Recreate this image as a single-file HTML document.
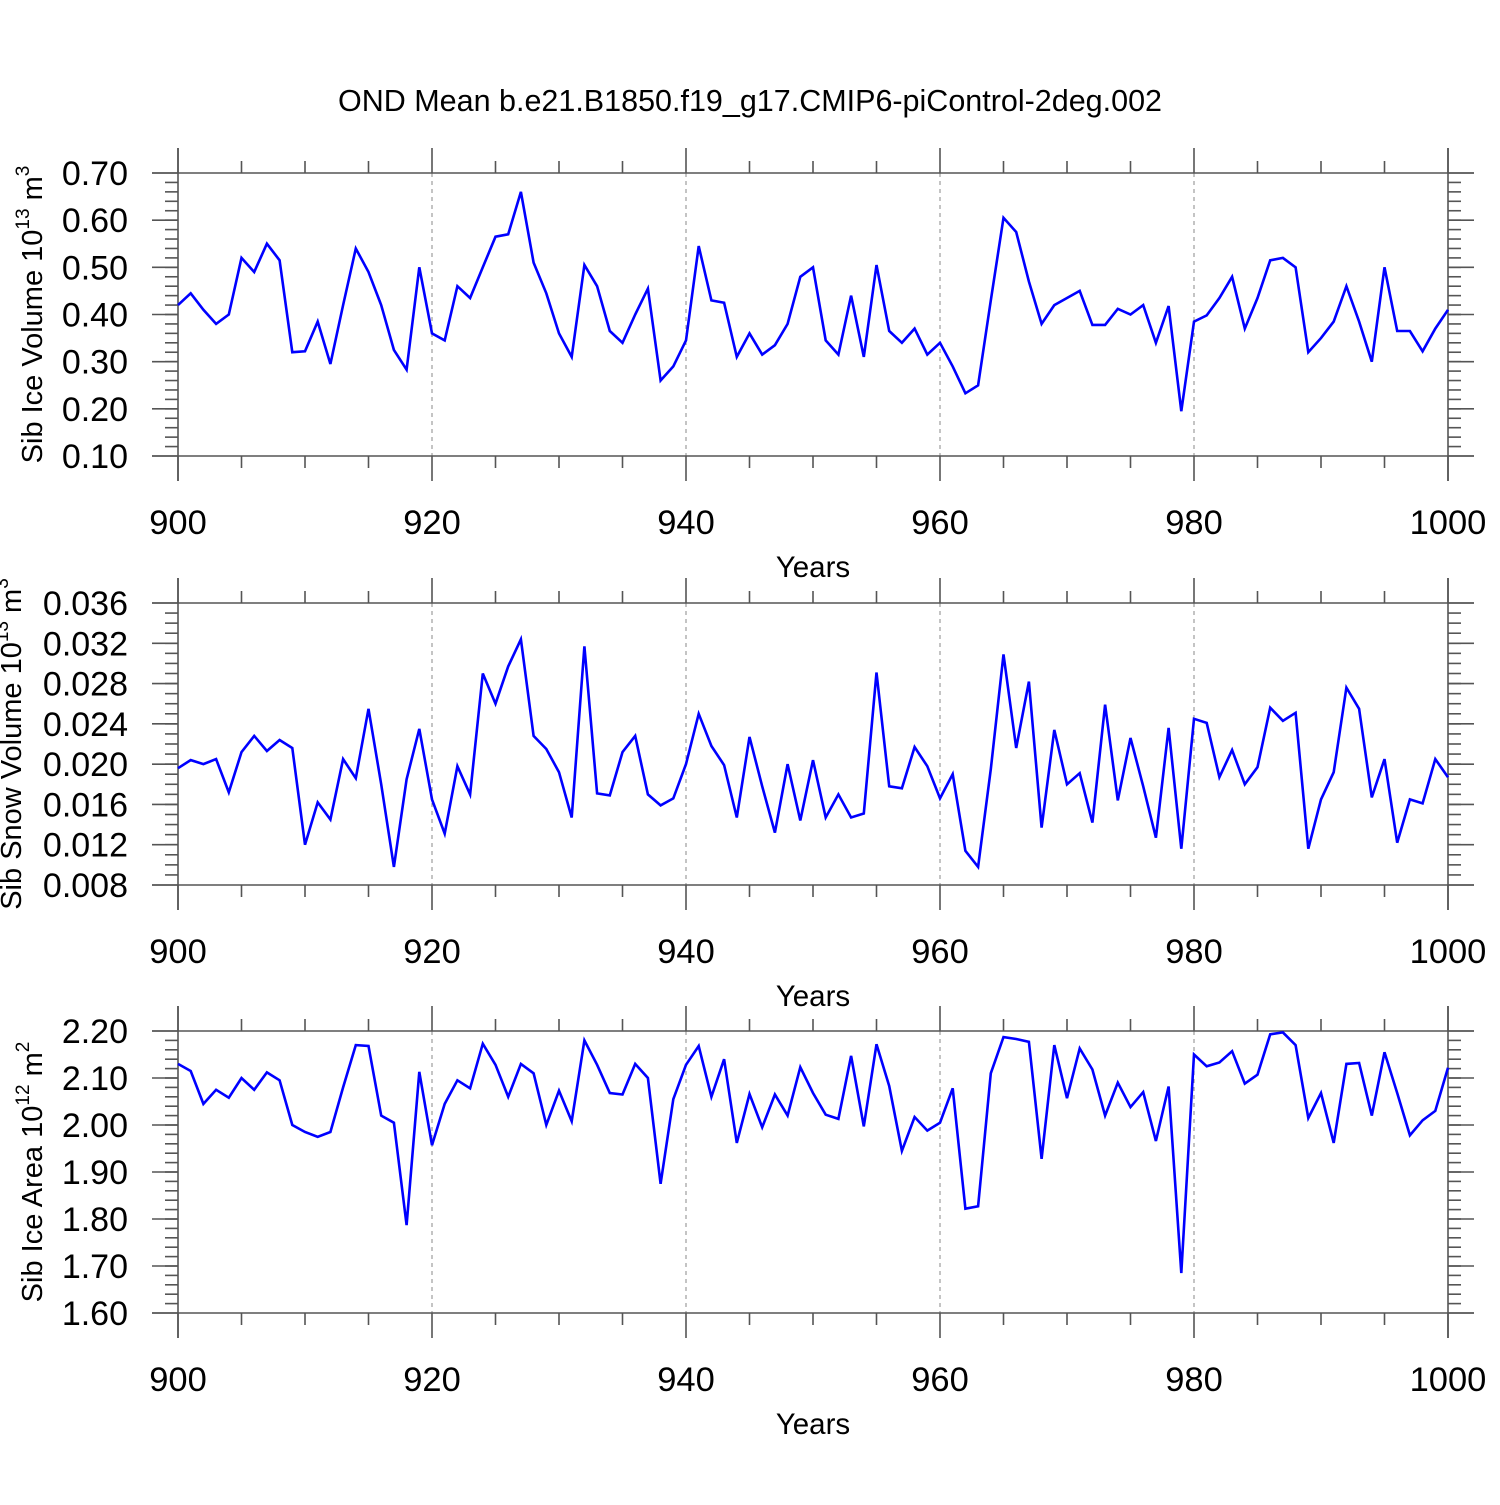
<!DOCTYPE html>
<html><head><meta charset="utf-8"><style>
html,body{margin:0;padding:0;background:#fff;}
svg text{font-family:"Liberation Sans",Arial,sans-serif;}
</style></head><body>
<svg id="chart" width="1500" height="1500" viewBox="0 0 1500 1500" xmlns="http://www.w3.org/2000/svg">
<rect width="1500" height="1500" fill="#fff"/>
<text x="750" y="111" font-size="30.5" text-anchor="middle">OND Mean b.e21.B1850.f19_g17.CMIP6-piControl-2deg.002</text>
</svg>
<script>
const years = [];
for (let y = 900; y <= 1000; y++) years.push(y);
const xTicks = [900, 920, 940, 960, 980, 1000];
const iceVolume = [0.42,0.445,0.41,0.38,0.40,0.52,0.49,0.55,0.515,0.32,0.322,0.385,0.295,0.42,0.54,0.49,0.42,0.325,0.283,0.50,0.36,0.345,0.46,0.435,0.50,0.565,0.57,0.66,0.51,0.445,0.36,0.31,0.505,0.46,0.365,0.34,0.40,0.455,0.26,0.29,0.345,0.545,0.43,0.425,0.31,0.36,0.315,0.335,0.38,0.48,0.50,0.345,0.315,0.44,0.31,0.505,0.365,0.34,0.37,0.315,0.34,0.29,0.233,0.25,0.43,0.605,0.575,0.47,0.38,0.42,0.435,0.45,0.378,0.378,0.412,0.40,0.42,0.34,0.418,0.195,0.385,0.398,0.435,0.48,0.37,0.435,0.515,0.52,0.50,0.32,0.35,0.385,0.46,0.385,0.30,0.50,0.365,0.365,0.322,0.37,0.41];
const snowVolume = [0.0196,0.0204,0.020,0.0205,0.0172,0.0212,0.0228,0.0213,0.0224,0.0216,0.012,0.0162,0.0145,0.0205,0.0186,0.0255,0.018,0.0098,0.0185,0.0235,0.0165,0.0131,0.0198,0.0170,0.029,0.026,0.0297,0.0324,0.0228,0.0215,0.0192,0.0147,0.0317,0.0171,0.0169,0.0212,0.0228,0.017,0.0159,0.0166,0.020,0.025,0.0218,0.0199,0.0147,0.0227,0.0178,0.0132,0.020,0.0144,0.0204,0.0147,0.017,0.0147,0.0151,0.0291,0.0178,0.0176,0.0217,0.0198,0.0166,0.019,0.0114,0.0098,0.0195,0.0309,0.0216,0.0282,0.0137,0.0234,0.018,0.0191,0.0142,0.0259,0.0164,0.0226,0.0178,0.0127,0.0236,0.0116,0.0245,0.0241,0.0187,0.0214,0.018,0.0197,0.0256,0.0243,0.0251,0.0116,0.0165,0.0192,0.0276,0.0255,0.0167,0.0205,0.0122,0.0165,0.0161,0.0205,0.0187];
const iceArea = [2.13,2.115,2.045,2.075,2.058,2.10,2.075,2.112,2.095,2.00,1.985,1.975,1.985,2.08,2.17,2.168,2.02,2.005,1.787,2.113,1.957,2.045,2.095,2.078,2.173,2.128,2.06,2.13,2.11,2.00,2.073,2.008,2.18,2.128,2.068,2.065,2.13,2.10,1.875,2.055,2.128,2.168,2.06,2.14,1.962,2.066,1.995,2.065,2.02,2.123,2.068,2.022,2.013,2.147,1.997,2.172,2.083,1.945,2.017,1.988,2.005,2.078,1.822,1.827,2.11,2.187,2.183,2.177,1.928,2.17,2.057,2.163,2.118,2.02,2.09,2.038,2.07,1.966,2.082,1.685,2.15,2.125,2.133,2.157,2.088,2.107,2.193,2.197,2.17,2.015,2.068,1.962,2.13,2.132,2.02,2.155,2.068,1.978,2.01,2.03,2.122];
const volTicks = ["0.10","0.20","0.30","0.40","0.50","0.60","0.70"];
const snowTicks = ["0.008","0.012","0.016","0.020","0.024","0.028","0.032","0.036"];
const areaTicks = ["1.60","1.70","1.80","1.90","2.00","2.10","2.20"];

const NS = "http://www.w3.org/2000/svg";
const svg = document.getElementById('chart');
function el(tag, attrs, parent) {
  const e = document.createElementNS(NS, tag);
  for (const k in attrs) e.setAttribute(k, attrs[k]);
  (parent || svg).appendChild(e);
  return e;
}
const X0 = 178, X1 = 1448;
function xs(v) { return X0 + (v - 900) / 100 * (X1 - X0); }

function panel(key, top, bottom, vmin, vmax, minorStep, ticks, data, titleParts, titleX) {
  const g = el('g', {});
  
  
  const ys = v => bottom - (v - vmin) / (vmax - vmin) * (bottom - top);
  [920, 940, 960, 980].forEach(t => {
    const l = el('line', {x1: xs(t), x2: xs(t), y1: top, y2: bottom, stroke: '#888', 'stroke-width': 1, 'stroke-dasharray': '4,4'}, g);
    
    
  });
  const ax = {stroke: '#555', 'stroke-width': 1.6};
  el('line', Object.assign({x1: 152, x2: 1474, y1: top, y2: top}, ax), g);
  el('line', Object.assign({x1: 152, x2: 1474, y1: bottom, y2: bottom}, ax), g);
  el('line', Object.assign({x1: X0, x2: X0, y1: top - 25, y2: bottom + 25}, ax), g);
  el('line', Object.assign({x1: X1, x2: X1, y1: top - 25, y2: bottom + 25}, ax), g);
  for (let t = 900; t <= 1000; t += 5) {
    const major = t % 20 === 0;
    const len = major ? 25 : 12;
    el('line', Object.assign({x1: xs(t), x2: xs(t), y1: top - len, y2: top}, ax), g);
    el('line', Object.assign({x1: xs(t), x2: xs(t), y1: bottom, y2: bottom + len}, ax), g);
  }
  xTicks.forEach(t => {
    const tx = el('text', {x: xs(t), y: bottom + 78, 'font-size': 34.5, 'text-anchor': 'middle'}, g);
    tx.textContent = t;
    
    
  });
  const xt = el('text', {x: 813, y: bottom + 121, 'font-size': 29.5, 'text-anchor': 'middle'}, g);
  xt.textContent = 'Years';
  
  
  const n = Math.round((vmax - vmin) / minorStep);
  for (let i = 1; i < n; i++) {
    const y = ys(vmin + i * minorStep);
    el('line', Object.assign({x1: X0 - 13, x2: X0, y1: y, y2: y}, ax), g);
    el('line', Object.assign({x1: X1, x2: X1 + 13, y1: y, y2: y}, ax), g);
  }
  ticks.forEach(t => {
    const y = ys(parseFloat(t));
    el('line', Object.assign({x1: 152, x2: X0, y1: y, y2: y}, ax), g);
    el('line', Object.assign({x1: X1, x2: 1474, y1: y, y2: y}, ax), g);
    const tx = el('text', {x: 128, y: y + 12, 'font-size': 34, 'text-anchor': 'end'}, g);
    tx.textContent = t;
    
    
  });
  const cy = (top + bottom) / 2;
  const yt = el('text', {x: 0, y: 0, 'font-size': 29, 'text-anchor': 'middle', transform: `translate(${titleX},${cy}) rotate(-90)`}, g);
  
  
  const a = el('tspan', {}, yt); a.textContent = titleParts[0];
  const b = el('tspan', {dy: -13, 'font-size': 19}, yt); b.textContent = titleParts[1];
  const c = el('tspan', {dy: 13}, yt); c.textContent = ' ' + titleParts[2];
  const d = el('tspan', {dy: -13, 'font-size': 19}, yt); d.textContent = titleParts[3];
  const pts = data.map((v, i) => xs(years[i]).toFixed(1) + ',' + ys(v).toFixed(1)).join(' ');
  const pl = el('polyline', {points: pts, fill: 'none', stroke: '#0000ff', 'stroke-width': 2.6, 'stroke-linejoin': 'miter'}, g);
  
  
}
panel('ice-volume', 173, 456, 0.10, 0.70, 0.02, volTicks, iceVolume, ['Sib Ice Volume 10', '13', 'm', '3'], 42);
panel('snow-volume', 603, 885, 0.008, 0.036, 0.001, snowTicks, snowVolume, ['Sib Snow Volume 10', '13', 'm', '3'], 21);
panel('ice-area', 1031, 1313, 1.60, 2.20, 0.02, areaTicks, iceArea, ['Sib Ice Area 10', '12', 'm', '2'], 42);
</script>
</body></html>
